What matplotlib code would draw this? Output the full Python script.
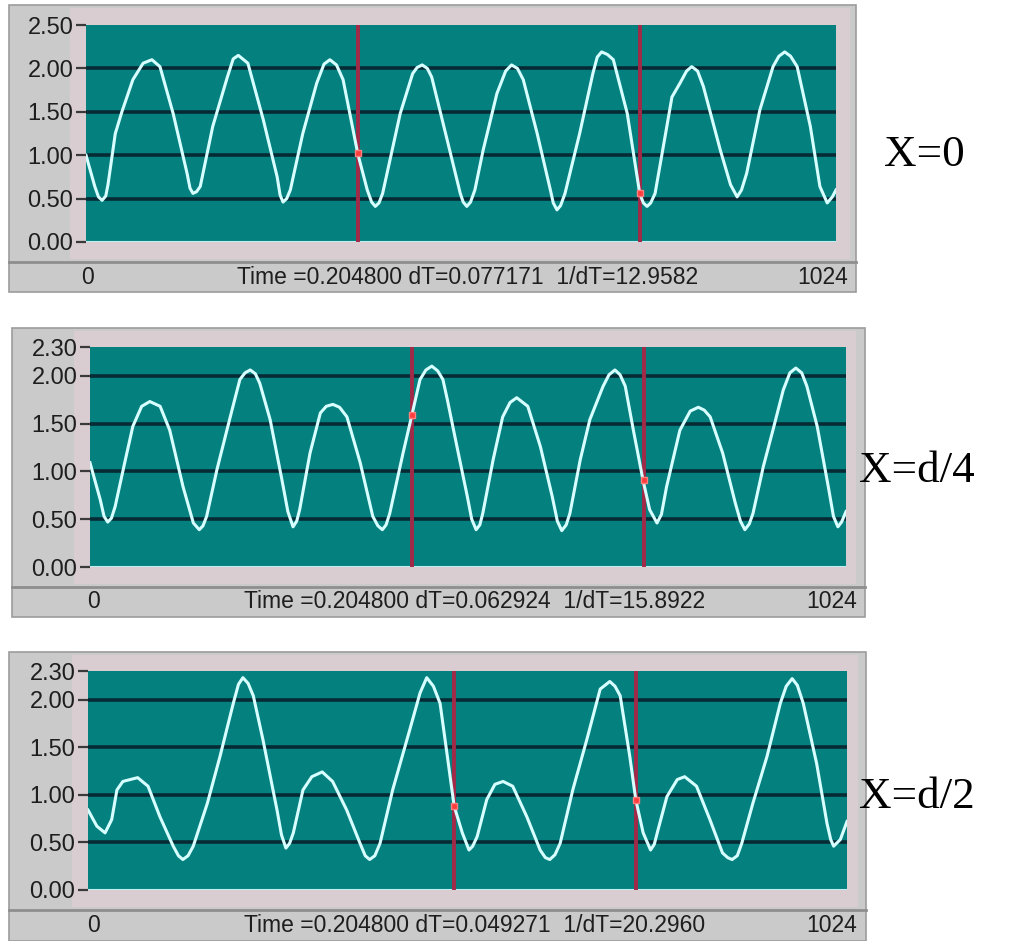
import matplotlib
matplotlib.use('Agg')
import matplotlib.pyplot as plt
from matplotlib.patches import Rectangle
from matplotlib.lines import Line2D

# ---------------- data: (sample index 0..1024, signal value) ----------------
trace_x0 = [(0, 1.00), (12, 0.64), (17, 0.52), (22, 0.48), (27, 0.53), (30, 0.66), (40, 1.25),
            (49, 1.50), (64, 1.87), (78, 2.06), (90, 2.10), (101, 2.02), (119, 1.48), (138, 0.79),
            (142, 0.62), (146, 0.56), (151, 0.58), (156, 0.64), (173, 1.33), (193, 1.90),
            (201, 2.11), (208, 2.15), (221, 2.06), (242, 1.41), (261, 0.75), (265, 0.54),
            (269, 0.46), (274, 0.50), (279, 0.60), (296, 1.25), (315, 1.83), (325, 2.05),
            (333, 2.10), (342, 2.04), (351, 1.87), (371, 1.02), (384, 0.60), (390, 0.46),
            (395, 0.41), (400, 0.45), (405, 0.56), (429, 1.48), (446, 1.94), (452, 2.01),
            (459, 2.04), (466, 2.00), (472, 1.90), (493, 1.18), (511, 0.56), (515, 0.46),
            (520, 0.41), (525, 0.46), (531, 0.60), (542, 1.05), (561, 1.71), (573, 1.97),
            (581, 2.04), (589, 2.00), (597, 1.87), (616, 1.25), (634, 0.60), (638, 0.45),
            (643, 0.37), (648, 0.42), (654, 0.56), (674, 1.25), (692, 1.94), (698, 2.13),
            (704, 2.19), (712, 2.16), (720, 2.10), (739, 1.48), (756, 0.56), (761, 0.45),
            (766, 0.41), (771, 0.45), (777, 0.56), (793, 1.33), (800, 1.67), (811, 1.83),
            (820, 1.97), (827, 2.02), (835, 1.97), (843, 1.79), (866, 1.06), (880, 0.66),
            (889, 0.52), (895, 0.60), (902, 0.79), (920, 1.52), (938, 2.02), (946, 2.14),
            (954, 2.19), (962, 2.14), (971, 2.02), (989, 1.33), (1002, 0.64), (1012, 0.45),
            (1019, 0.52), (1024, 0.60)]

trace_xd4 = [(0, 1.09), (14, 0.70), (19, 0.53), (24, 0.47), (29, 0.51), (34, 0.63), (47, 1.09),
             (58, 1.47), (70, 1.68), (81, 1.73), (95, 1.68), (108, 1.43), (126, 0.84), (140, 0.46),
             (148, 0.39), (153, 0.43), (158, 0.53), (172, 1.02), (190, 1.57), (203, 1.96),
             (210, 2.03), (217, 2.06), (224, 2.02), (230, 1.92), (244, 1.54), (260, 0.91),
             (268, 0.58), (275, 0.42), (280, 0.48), (284, 0.60), (298, 1.19), (312, 1.61),
             (320, 1.68), (329, 1.70), (338, 1.67), (348, 1.57), (366, 1.09), (383, 0.53),
             (390, 0.43), (396, 0.39), (401, 0.44), (406, 0.56), (424, 1.19), (436, 1.59),
             (447, 1.96), (455, 2.06), (463, 2.10), (471, 2.05), (478, 1.96), (484, 1.75),
             (497, 1.26), (511, 0.74), (517, 0.50), (523, 0.39), (528, 0.44), (532, 0.56),
             (546, 1.12), (559, 1.57), (569, 1.72), (578, 1.77), (593, 1.68), (610, 1.26),
             (626, 0.74), (633, 0.48), (639, 0.38), (645, 0.44), (650, 0.56), (664, 1.12),
             (677, 1.54), (695, 1.89), (703, 2.01), (711, 2.06), (718, 2.01), (725, 1.89),
             (736, 1.43), (749, 0.91), (758, 0.60), (768, 0.46), (774, 0.55), (781, 0.84),
             (799, 1.43), (813, 1.63), (824, 1.67), (832, 1.64), (840, 1.57), (857, 1.19),
             (874, 0.67), (881, 0.48), (887, 0.39), (893, 0.45), (898, 0.56), (912, 1.05),
             (925, 1.43), (939, 1.85), (948, 2.03), (956, 2.08), (964, 2.03), (971, 1.89),
             (985, 1.47), (1000, 0.84), (1007, 0.53), (1013, 0.42), (1018, 0.47), (1024, 0.58)]

trace_xd2 = [(0, 0.84), (12, 0.67), (23, 0.60), (32, 0.74), (39, 1.05), (47, 1.14), (67, 1.18),
             (81, 1.09), (97, 0.77), (115, 0.46), (122, 0.36), (128, 0.32), (135, 0.36),
             (142, 0.46), (161, 0.91), (178, 1.40), (196, 1.96), (203, 2.16), (209, 2.23),
             (216, 2.17), (223, 2.04), (236, 1.58), (255, 0.84), (261, 0.58), (267, 0.44),
             (272, 0.49), (277, 0.60), (290, 1.05), (302, 1.19), (316, 1.24), (330, 1.14),
             (349, 0.84), (367, 0.49), (374, 0.36), (380, 0.32), (387, 0.36), (394, 0.49),
             (411, 1.05), (434, 1.68), (448, 2.07), (457, 2.23), (466, 2.14), (475, 1.96),
             (484, 1.45), (494, 0.88), (505, 0.60), (514, 0.42), (519, 0.46), (525, 0.56),
             (538, 0.95), (549, 1.11), (560, 1.14), (573, 1.09), (592, 0.77), (610, 0.42),
             (617, 0.34), (623, 0.32), (630, 0.37), (637, 0.49), (654, 1.05), (673, 1.58),
             (691, 2.11), (704, 2.19), (711, 2.14), (718, 2.04), (731, 1.40), (739, 0.95),
             (749, 0.60), (759, 0.42), (764, 0.48), (769, 0.63), (781, 0.98), (795, 1.16),
             (805, 1.19), (821, 1.09), (839, 0.74), (856, 0.39), (863, 0.34), (869, 0.32),
             (876, 0.36), (882, 0.49), (897, 0.91), (916, 1.40), (934, 1.96), (942, 2.14),
             (950, 2.22), (957, 2.15), (965, 1.96), (983, 1.33), (997, 0.70), (1002, 0.53),
             (1006, 0.46), (1015, 0.53), (1024, 0.72)]

cursor_x = [[371, 756], [436, 750], [494, 739]]
cursor_v = [[1.02, 0.56], [1.59, 0.91], [0.88, 0.95]]

yticks1 = [0.0, 0.5, 1.0, 1.5, 2.0, 2.5]
yticks23 = [0.0, 0.5, 1.0, 1.5, 2.0, 2.3]
grid_levels = [0.5, 1.0, 1.5, 2.0]

time_texts = ["Time =0.204800 dT=0.077171  1/dT=12.9582",
              "Time =0.204800 dT=0.062924  1/dT=15.8922",
              "Time =0.204800 dT=0.049271  1/dT=20.2960"]
side_labels = ["X=0", "X=d/4", "X=d/2"]
x_start_label = "0"
x_end_label = "1024"

# ---------------- layout (pixels) ----------------
W, H = 1019, 941
fig = plt.figure(figsize=(W / 100, H / 100), dpi=100)
fig.patch.set_facecolor('white')

GRAY = '#cacaca'
PINK = '#dacdd1'
TEAL = '#04807f'
GRID = '#062b35'
CURVE = '#d8ffff'
CURSOR = '#a22a48'

traces = [trace_x0, trace_xd4, trace_xd2]

panels = [
    dict(outer=(9, 5, 856, 292), pink=(70, 8, 850, 259), plot=(86, 25, 836, 242), sep=262,
         ty=277, zero_x=87, end_x=848, time_x=468, top=2.5, ticks=yticks1, side=(884, 155)),
    dict(outer=(12, 328, 865, 617), pink=(74, 331, 856, 584), plot=(90, 347, 846, 567), sep=587,
         ty=602, zero_x=93, end_x=857, time_x=475, top=2.3, ticks=yticks23, side=(859, 471)),
    dict(outer=(9, 652, 866, 941), pink=(72, 655, 858, 907), plot=(88, 671, 847, 890), sep=910,
         ty=925, zero_x=93, end_x=857, time_x=475, top=2.3, ticks=yticks23, side=(859, 797)),
]


def fx(x):
    return x / W


def fy(y):
    return 1 - y / H


def add_rect(x0, y0, x1, y1, fc, ec='none', lw=0.0, z=0):
    fig.add_artist(Rectangle((fx(x0), fy(y1)), (x1 - x0) / W, (y1 - y0) / H,
                             transform=fig.transFigure, facecolor=fc, edgecolor=ec,
                             lw=lw, zorder=z))


for i, p in enumerate(panels):
    ox0, oy0, ox1, oy1 = p['outer']
    add_rect(ox0, oy0, ox1, oy1, GRAY, '#9c9c9c', 1.2, z=-3)
    px0, py0, px1, py1 = p['pink']
    add_rect(px0, py0, px1, py1, PINK, z=-2)
    fig.add_artist(Line2D([fx(ox0), fx(ox1)], [fy(p['sep']), fy(p['sep'])],
                          transform=fig.transFigure, color='#8e8e8e', lw=2, zorder=-1))

    a0, b0, a1, b1 = p['plot']
    ax = fig.add_axes([fx(a0), fy(b1), (a1 - a0) / W, (b1 - b0) / H])
    ax.set_zorder(5)
    ax.set_facecolor(TEAL)
    ax.set_xlim(0, 1024)
    ax.set_ylim(0, p['top'])
    for sp in ax.spines.values():
        sp.set_visible(False)
    ax.set_xticks([])
    ax.set_yticks(p['ticks'])
    ax.set_yticklabels(['%.2f' % t for t in p['ticks']], fontfamily='Liberation Sans')
    ax.tick_params(axis='y', direction='out', length=7, width=1.6, color='#3a3a3a',
                   pad=2, labelsize=17, labelcolor='#1e1e1e')
    for g in grid_levels:
        ax.axhline(g, color=GRID, lw=2.6, zorder=1)
    ax.axhline(0, color='#bfeeee', lw=1.5, zorder=1)
    for cx in cursor_x[i]:
        ax.axvline(cx, color=CURSOR, lw=2.8, zorder=2)
    xs = [a for a, b in traces[i]]
    ys = [b for a, b in traces[i]]
    ax.plot(xs, ys, color=CURVE, lw=2.2, zorder=3, solid_joinstyle='round')
    ax.plot(cursor_x[i], cursor_v[i], linestyle='none', marker='s', ms=4.5,
            color='#ff3b3b', mec='#ff8080', zorder=4)

    fig.text(fx(p['zero_x']), fy(p['ty']), x_start_label, ha='center', va='center',
             fontsize=16.5, family='Liberation Sans', color='#1e1e1e', zorder=6)
    fig.text(fx(p['end_x']), fy(p['ty']), x_end_label, ha='right', va='center',
             fontsize=16.5, family='Liberation Sans', color='#1e1e1e', zorder=6)
    fig.text(fx(p['time_x']), fy(p['ty']), time_texts[i], ha='center', va='center',
             fontsize=16.5, family='Liberation Sans', color='#1e1e1e', zorder=6)
    sx, sy = p['side']
    fig.text(fx(sx), fy(sy), side_labels[i], ha='left', va='center',
             fontsize=32.5, family='Liberation Serif', color='black', zorder=6)

fig.savefig('out.png', dpi=100, facecolor='white')
